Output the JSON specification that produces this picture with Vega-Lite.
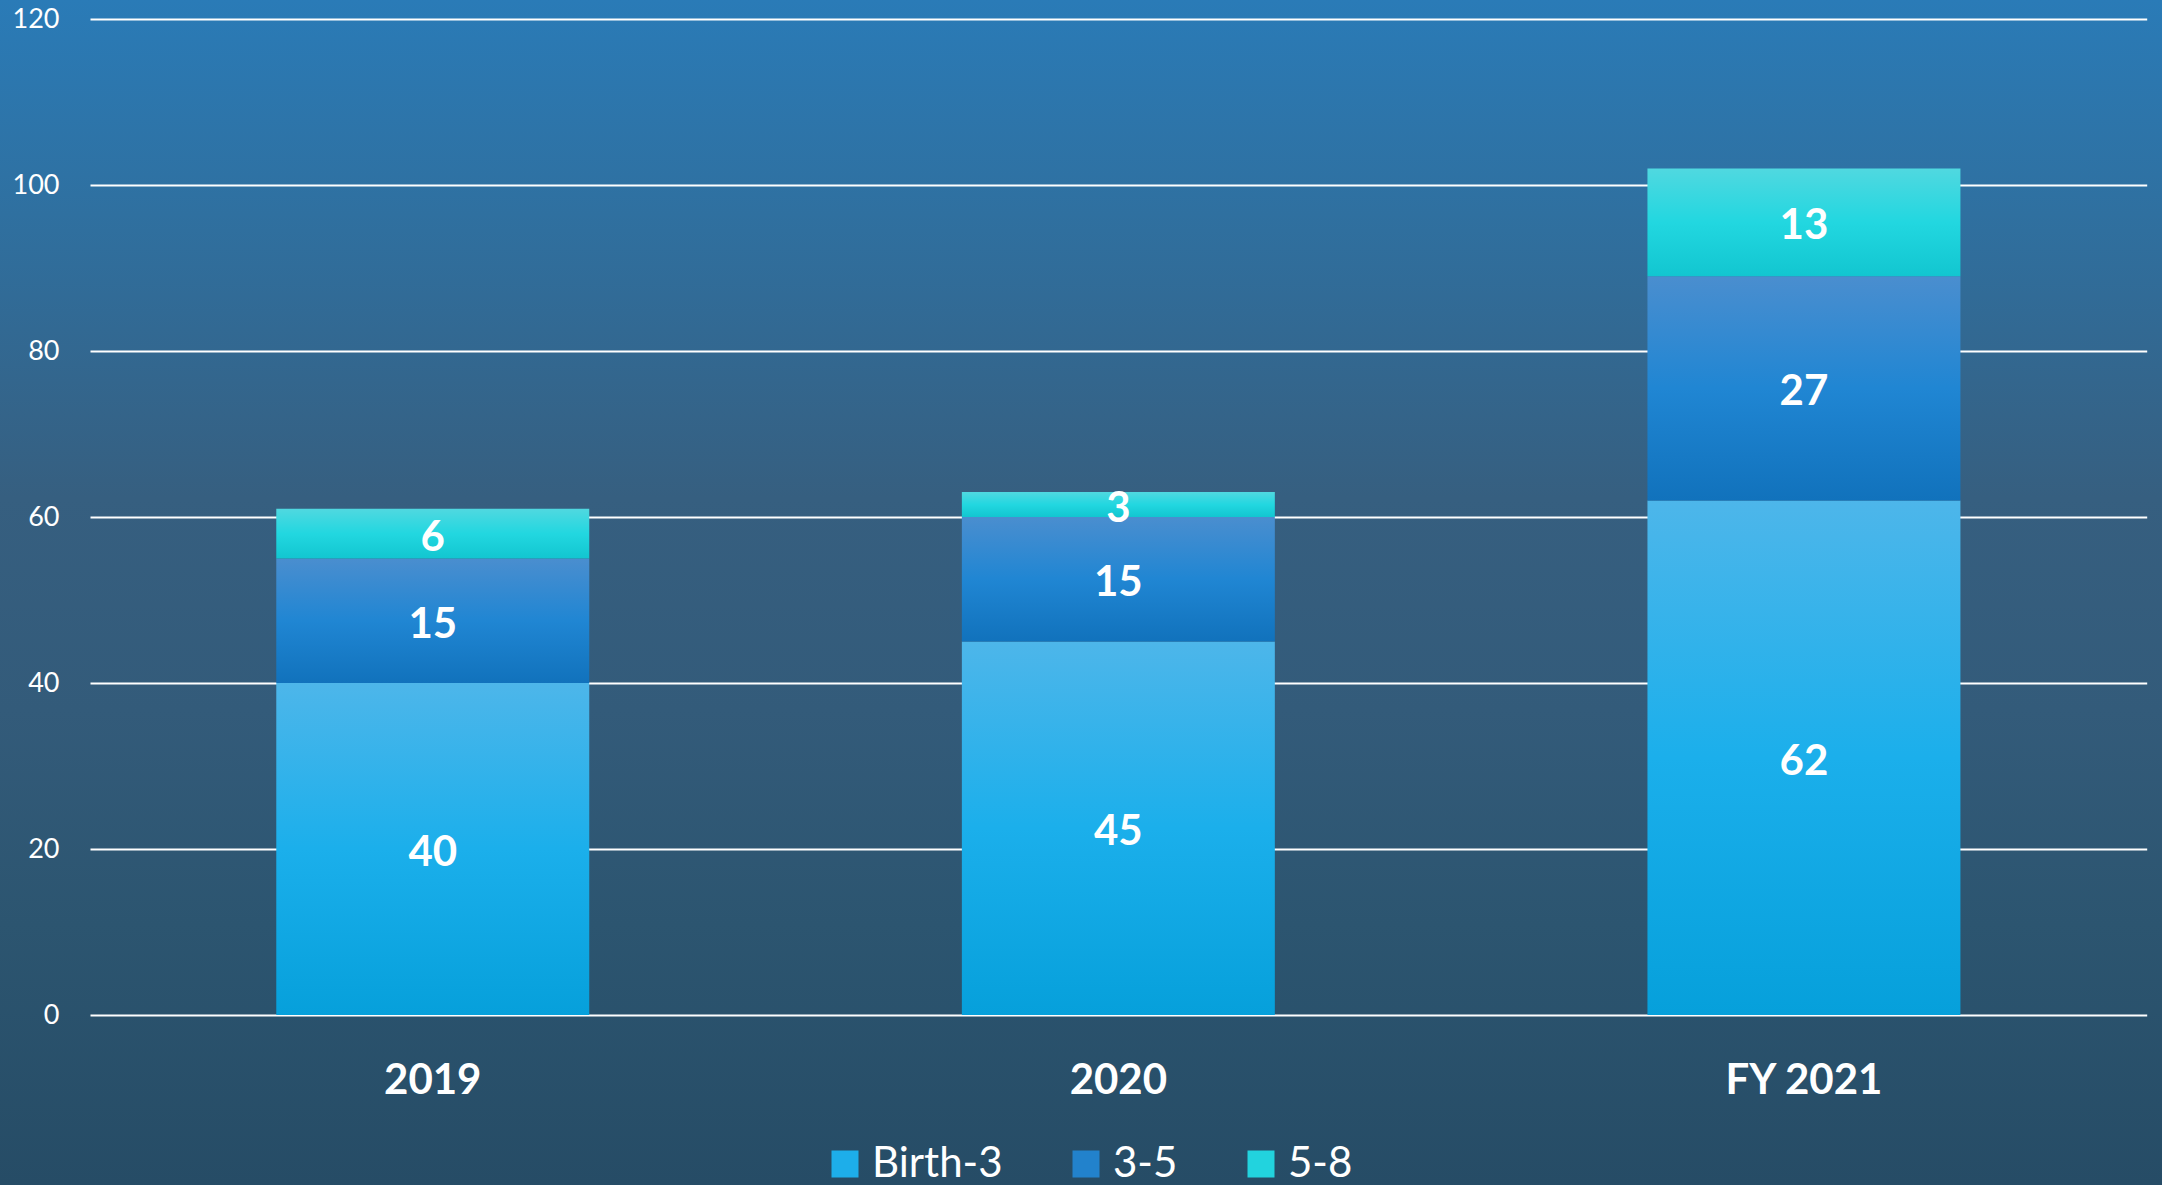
{
  "$schema": "https://vega.github.io/schema/vega-lite/v6.json",
  "width": 2162,
  "height": 1185,
  "autosize": {"type": "none"},
  "padding": 0,
  "background": "#2F5F7F",
  "data": {
    "values": [
      {"year": "2019", "group": "Birth-3", "rank": 1, "value": 40},
      {"year": "2019", "group": "3-5", "rank": 2, "value": 15},
      {"year": "2019", "group": "5-8", "rank": 3, "value": 6},
      {"year": "2020", "group": "Birth-3", "rank": 1, "value": 45},
      {"year": "2020", "group": "3-5", "rank": 2, "value": 15},
      {"year": "2020", "group": "5-8", "rank": 3, "value": 3},
      {"year": "FY 2021", "group": "Birth-3", "rank": 1, "value": 62},
      {"year": "FY 2021", "group": "3-5", "rank": 2, "value": 27},
      {"year": "FY 2021", "group": "5-8", "rank": 3, "value": 13}
    ]
  },
  "encoding": {
    "x": {
      "field": "year",
      "type": "nominal",
      "sort": ["2019", "2020", "FY 2021"],
      "scale": {"range": [90, 2146.7], "paddingInner": 0.5435, "paddingOuter": 0.2717},
      "axis": {
        "title": null,
        "orient": "bottom",
        "offset": -170,
        "domain": false,
        "ticks": false,
        "grid": false,
        "labelAngle": 0,
        "labelPadding": 45,
        "labelFont": "Lato",
        "labelFontWeight": "bold",
        "labelFontSize": 42,
        "labelColor": "#FFFFFF"
      }
    }
  },
  "layer": [
    {
      "mark": {"type": "square", "filled": true, "opacity": 0},
      "encoding": {
        "y": {"field": "value", "type": "quantitative", "aggregate": "sum", "stack": "zero"},
        "color": {
          "field": "group",
          "type": "nominal",
          "sort": ["Birth-3", "3-5", "5-8"],
          "scale": {
            "domain": ["Birth-3", "3-5", "5-8"],
            "range": ["#1DAEEA", "#2282CC", "#22D3DE"]
          },
          "legend": {
            "title": null,
            "orient": "none",
            "direction": "horizontal",
            "legendX": 824,
            "legendY": 1143,
            "padding": 0,
            "symbolType": "square",
            "symbolSize": 729,
            "symbolStrokeWidth": 0,
            "symbolOpacity": 1,
            "labelOffset": 6,
            "columnPadding": 62,
            "labelFont": "Lato",
            "labelFontSize": 42,
            "labelColor": "#FFFFFF",
            "labelLimit": 400,
            "encode": {
              "symbols": {
                "update": {
                  "fill": {"signal": "datum.value === 'Birth-3' ? {gradient: 'linear', x1: 0, y1: 0, x2: 0, y2: 1, stops: [{offset: 0, color: '#4DB6EA'}, {offset: 0.5, color: '#1BAFEB'}, {offset: 1, color: '#06A0DB'}]} : datum.value === '3-5' ? {gradient: 'linear', x1: 0, y1: 0, x2: 0, y2: 1, stops: [{offset: 0, color: '#4A8ECF'}, {offset: 0.5, color: '#2086D3'}, {offset: 1, color: '#1172BC'}]} : {gradient: 'linear', x1: 0, y1: 0, x2: 0, y2: 1, stops: [{offset: 0, color: '#50D8E0'}, {offset: 0.5, color: '#22D7E0'}, {offset: 1, color: '#12C6D0'}]}"},
                  "opacity": {"value": 1}
                }
              }
            }
          }
        },
        "order": {"field": "rank", "type": "quantitative"}
      }
    },
    {
      "mark": {"type": "bar"},
      "encoding": {
        "y": {
          "field": "value",
          "type": "quantitative",
          "aggregate": "sum",
          "stack": "zero",
          "scale": {"domain": [0, 120], "range": [1015, 19], "nice": false},
          "axis": {
            "title": null,
            "orient": "left",
            "offset": -59,
            "values": [0, 20, 40, 60, 80, 100, 120],
            "domain": false,
            "ticks": false,
            "labelPadding": 0,
            "labelFont": "Lato",
            "labelFontSize": 27,
            "labelColor": "#FFFFFF",
            "labelAlign": "right",
            "labelBaseline": "middle",
            "grid": true,
            "gridColor": "#FFFFFF",
            "gridWidth": 2,
            "gridOpacity": 1
          }
        },
        "detail": {"field": "group"},
        "fill": {
          "condition": [
            {"test": "datum.rank === 1", "value": {"gradient": "linear", "x1": 0, "y1": 0, "x2": 0, "y2": 1, "stops": [
              {"offset": 0, "color": "#4DB6EA"},
              {"offset": 0.5, "color": "#1BAFEB"},
              {"offset": 1, "color": "#06A0DB"}
            ]}},
            {"test": "datum.rank === 2", "value": {"gradient": "linear", "x1": 0, "y1": 0, "x2": 0, "y2": 1, "stops": [
              {"offset": 0, "color": "#4A8ECF"},
              {"offset": 0.5, "color": "#2086D3"},
              {"offset": 1, "color": "#1172BC"}
            ]}}
          ],
          "value": {"gradient": "linear", "x1": 0, "y1": 0, "x2": 0, "y2": 1, "stops": [
            {"offset": 0, "color": "#50D8E0"},
            {"offset": 0.5, "color": "#22D7E0"},
            {"offset": 1, "color": "#12C6D0"}
          ]}
        },
        "order": {"field": "rank", "type": "quantitative"}
      }
    },
    {
      "mark": {"type": "text", "font": "Lato", "fontWeight": "bold", "fontSize": 42, "color": "#FFFFFF", "baseline": "middle", "align": "center", "dy": 4},
      "encoding": {
        "y": {"field": "value", "type": "quantitative", "aggregate": "sum", "stack": "zero", "bandPosition": 0.5},
        "text": {"field": "value", "type": "quantitative", "aggregate": "sum"},
        "detail": {"field": "group"},
        "order": {"field": "rank", "type": "quantitative"}
      }
    }
  ],
  "config": {
    "view": {
      "stroke": null,
      "fill": {"gradient": "linear", "x1": 0, "y1": 0, "x2": 0, "y2": 1, "stops": [
        {"offset": 0, "color": "#2A7BB7"},
        {"offset": 0.18, "color": "#2F70A0"},
        {"offset": 0.42, "color": "#365F80"},
        {"offset": 0.6, "color": "#335B7A"},
        {"offset": 0.78, "color": "#2C5570"},
        {"offset": 1, "color": "#264C66"}
      ]}
    }
  }
}
